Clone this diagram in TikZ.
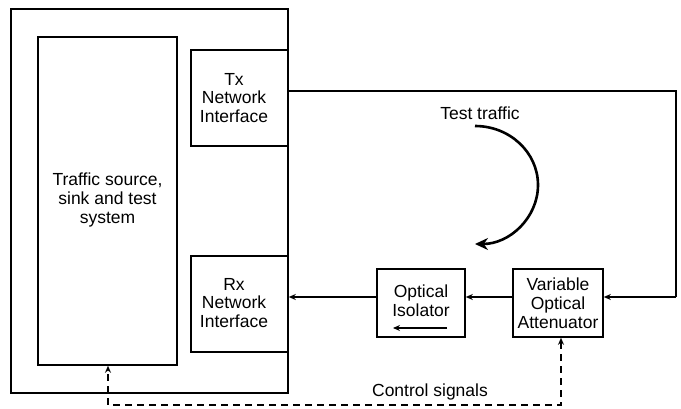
\documentclass[tikz,border=0pt]{standalone}
\usepackage{fontspec}
\setmainfont{Liberation Sans}
\usetikzlibrary{arrows.meta}
\begin{document}
\begin{tikzpicture}[x=1pt,y=-1pt,
  box/.style={draw,line width=1.6pt,inner sep=0pt},
  lbl/.style={align=center,inner sep=0pt,font=\fontsize{17.5}{18.8}\selectfont},
  conn/.style={line width=1.3pt,-{Stealth[length=7pt,width=6pt]}},
  ctrl/.style={line width=1.3pt,dash pattern=on 7pt off 5pt,{Stealth[length=7pt,width=6pt]}-{Stealth[length=7pt,width=6pt]}}]
\useasboundingbox (0,0) rectangle (681,409);
\node[box,minimum width=277pt,minimum height=384pt] (outer) at (149.5,201) {};
\node[box,minimum width=139pt,minimum height=328pt] (traffic) at (107.5,201) {};
\node[lbl] (traffictxt) at (107.5,200) {Traffic source,\\sink and test\\system};
\node[box,minimum width=97pt,minimum height=96pt] (tx) at (239.5,98) {};
\node[lbl] (txtxt) at (234,98) {Tx\\Network\\Interface};
\node[box,minimum width=97pt,minimum height=96pt] (rx) at (239.5,304) {};
\node[lbl] (rxtxt) at (234,303) {Rx\\Network\\Interface};
\node[box,minimum width=88pt,minimum height=68pt] (iso) at (421,303) {};
\node[lbl] (isotxt) at (421,300.5) {Optical\\Isolator};
\coordinate (isoa) at (447,328);
\coordinate (isob) at (393,328);
\draw[conn] (isoa) -- (isob);
\node[box,minimum width=90pt,minimum height=68pt] (voa) at (558,303) {};
\node[lbl] (voatxt) at (558,303) {Variable\\Optical\\Attenuator};
\node[lbl] (tt) at (480,113) {Test traffic};
\node[lbl] (cs) at (430,392) {Control signals};
% Tx loop
\coordinate (c1) at (676,91);
\coordinate (c2) at (676,297);
\draw[line width=1.3pt] (tx.east |- c1) -- (c1) -- (c2);
\draw[conn] (c2) -- (voa.east |- c2);
\draw[conn] (voa.west |- c2) -- (iso.east |- c2);
\draw[conn] (iso.west |- c2) -- (rx.east |- c2);
% control
\coordinate (d1) at (561,405);
\coordinate (d2) at (108,405);
\draw[ctrl] (voa.south -| d1) -- (d1) -- (d2) -- (traffic.south -| d2);
% test traffic arrow
\draw[line width=2.6pt,-{Stealth[length=13pt,width=12pt]}] (475,126) arc[start angle=-90,end angle=90,x radius=63,y radius=59];
\end{tikzpicture}
\end{document}
